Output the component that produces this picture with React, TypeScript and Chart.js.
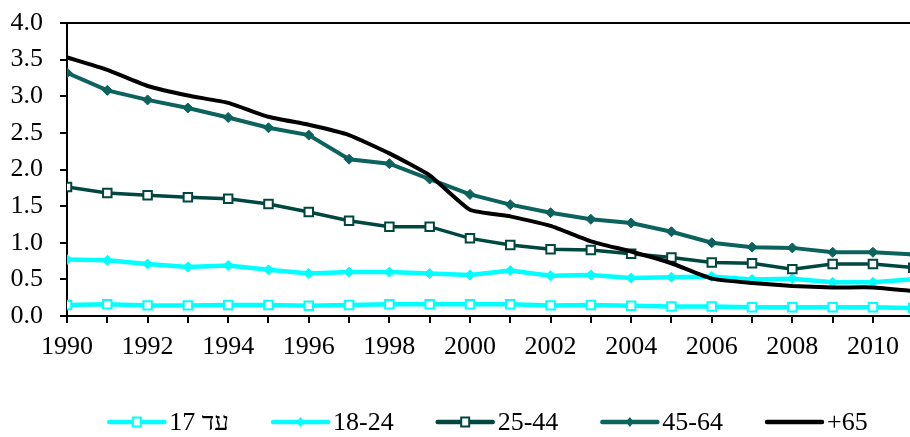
import React, { useEffect, useRef } from 'react';
import { Chart, registerables } from 'chart.js';

Chart.register(...registerables);

// ---- data ----
const years = [1990, 1991, 1992, 1993, 1994, 1995, 1996, 1997, 1998, 1999, 2000, 2001, 2002, 2003, 2004, 2005, 2006, 2007, 2008, 2009, 2010, 2011];
const upTo17 = [0.15, 0.16, 0.145, 0.145, 0.15, 0.15, 0.14, 0.15, 0.16, 0.16, 0.16, 0.16, 0.145, 0.15, 0.14, 0.13, 0.13, 0.12, 0.12, 0.12, 0.12, 0.11];
const age18to24 = [0.77, 0.76, 0.71, 0.67, 0.69, 0.63, 0.58, 0.6, 0.6, 0.58, 0.56, 0.62, 0.55, 0.56, 0.52, 0.53, 0.54, 0.5, 0.51, 0.46, 0.46, 0.5];
const age25to44 = [1.76, 1.68, 1.65, 1.62, 1.6, 1.53, 1.42, 1.3, 1.22, 1.22, 1.06, 0.97, 0.91, 0.9, 0.85, 0.8, 0.73, 0.72, 0.64, 0.71, 0.71, 0.66];
const age45to64 = [3.32, 3.08, 2.95, 2.84, 2.71, 2.57, 2.47, 2.14, 2.08, 1.87, 1.66, 1.52, 1.41, 1.32, 1.27, 1.15, 1.0, 0.94, 0.93, 0.87, 0.87, 0.84];
const age65plus = [3.53, 3.36, 3.14, 3.01, 2.91, 2.72, 2.61, 2.47, 2.22, 1.92, 1.45, 1.36, 1.23, 1.02, 0.88, 0.72, 0.51, 0.45, 0.41, 0.39, 0.39, 0.34];
const seriesLabels = ['עד 17', '18-24', '25-44', '45-64', '+65'];
const xMin = 1990;
const xMax = 2010.92;
const yMin = 0;
const yMax = 4;
const yStep = 0.5;

const FONT = '"Liberation Serif", "Times New Roman", serif';
const CYAN = '#00FFFF';
const DARK = '#00473f';
const TEAL = '#0c625d';

const toPoints = (vals: number[]) => years.map((x, i) => ({ x, y: vals[i] }));

const legendPlugin = {
  id: 'lineMarkerLegend',
  afterDraw(chart: any) {
    const ctx: CanvasRenderingContext2D = chart.ctx;
    const { left, right } = chart.chartArea;
    ctx.save();
    ctx.font = `26px ${FONT}`;
    const lineLen = 55;
    const gapText = 5;
    const gapItem = 44;
    const items = chart.data.datasets.map((ds: any) => ({ ds, w: ctx.measureText(ds.label).width }));
    const total = items.reduce((s: number, it: any) => s + lineLen + gapText + it.w, 0) + gapItem * (items.length - 1);
    let x = (left + right) / 2 - total / 2;
    const y = chart.height - 15;
    for (const it of items) {
      const ds = it.ds;
      ctx.strokeStyle = ds.borderColor;
      ctx.lineWidth = 4.5;
      ctx.lineCap = 'round';
      ctx.beginPath();
      ctx.moveTo(x, y);
      ctx.lineTo(x + lineLen, y);
      ctx.stroke();
      const cx = x + lineLen / 2;
      if (ds.pointStyle === 'rect') {
        ctx.fillStyle = '#ffffff';
        ctx.lineWidth = 2;
        ctx.beginPath();
        ctx.rect(cx - 4, y - 4.5, 8, 9);
        ctx.fill();
        ctx.stroke();
      } else if (ds.pointStyle === 'rectRot') {
        ctx.fillStyle = ds.borderColor;
        ctx.beginPath();
        ctx.moveTo(cx, y - 5);
        ctx.lineTo(cx + 4, y);
        ctx.lineTo(cx, y + 5);
        ctx.lineTo(cx - 4, y);
        ctx.closePath();
        ctx.fill();
      }
      ctx.fillStyle = '#000';
      ctx.textAlign = 'left';
      ctx.textBaseline = 'middle';
      ctx.fillText(ds.label, x + lineLen + gapText, y + 1);
      x += lineLen + gapText + it.w + gapItem;
    }
    ctx.restore();
  },
};

const frameTopPlugin = {
  id: 'frameTop',
  afterDatasetsDraw(chart: any) {
    const ctx: CanvasRenderingContext2D = chart.ctx;
    const { left, right, top } = chart.chartArea;
    ctx.save();
    ctx.strokeStyle = '#000';
    ctx.lineWidth = 2;
    ctx.beginPath();
    ctx.moveTo(left - 7, top);
    ctx.lineTo(right, top);
    ctx.stroke();
    ctx.restore();
  },
};

export default function App() {
  const canvasRef = useRef<HTMLCanvasElement | null>(null);

  useEffect(() => {
    document.body.style.margin = '0';
    const canvas = canvasRef.current;
    if (!canvas) return;
    const common = { tension: 0, fill: false, pointHoverRadius: 6 };
    const chart = new Chart(canvas, {
      type: 'line',
      data: {
        datasets: [
          {
            ...common,
            label: seriesLabels[0],
            data: toPoints(upTo17),
            borderColor: CYAN,
            backgroundColor: '#ffffff',
            borderWidth: 4.5,
            pointStyle: 'rect',
            pointRadius: 6,
            pointBorderWidth: 2,
            pointBackgroundColor: '#ffffff',
            pointBorderColor: CYAN,
            order: 5,
          },
          {
            ...common,
            label: seriesLabels[1],
            data: toPoints(age18to24),
            borderColor: CYAN,
            backgroundColor: CYAN,
            borderWidth: 4.5,
            pointStyle: 'rectRot',
            pointRadius: 5,
            pointBorderWidth: 1,
            pointBackgroundColor: CYAN,
            pointBorderColor: CYAN,
            order: 4,
          },
          {
            ...common,
            label: seriesLabels[2],
            data: toPoints(age25to44),
            borderColor: DARK,
            backgroundColor: '#ffffff',
            borderWidth: 3.5,
            pointStyle: 'rect',
            pointRadius: 6,
            pointBorderWidth: 2,
            pointBackgroundColor: '#ffffff',
            pointBorderColor: DARK,
            order: 3,
          },
          {
            ...common,
            label: seriesLabels[3],
            data: toPoints(age45to64),
            borderColor: TEAL,
            backgroundColor: TEAL,
            borderWidth: 4,
            pointStyle: 'rectRot',
            pointRadius: 5,
            pointBorderWidth: 1,
            pointBackgroundColor: TEAL,
            pointBorderColor: TEAL,
            order: 2,
          },
          {
            ...common,
            label: seriesLabels[4],
            data: toPoints(age65plus),
            borderColor: '#000000',
            backgroundColor: '#000000',
            borderWidth: 4,
            pointRadius: 0,
            tension: 0.15,
            order: 1,
          },
        ] as any,
      },
      options: {
        animation: false,
        responsive: false,
        maintainAspectRatio: false,
        layout: { autoPadding: false, padding: { top: 23, right: 0, bottom: 0, left: 0 } },
        plugins: {
          legend: { display: false },
          tooltip: { enabled: false },
          title: { display: false },
        },
        scales: {
          x: {
            type: 'linear',
            min: xMin,
            max: xMax,
            afterFit: (scale: any) => {
              scale.height = 121;
            },
            ticks: {
              stepSize: 1,
              includeBounds: false,
              autoSkip: false,
              maxRotation: 0,
              padding: 9,
              color: '#000',
              font: { family: FONT, size: 26 },
              callback: (v: any) => (Number(v) % 2 === 0 ? String(v) : ''),
            },
            grid: {
              display: true,
              drawOnChartArea: false,
              drawTicks: true,
              tickLength: 7,
              color: '#000',
              lineWidth: 2,
            },
            border: { display: true, color: '#000', width: 2 },
          },
          y: {
            type: 'linear',
            min: yMin,
            max: yMax,
            afterFit: (scale: any) => {
              scale.width = 67;
              scale.paddingTop = 0;
              scale.paddingBottom = 0;
            },
            ticks: {
              stepSize: yStep,
              padding: 17,
              color: '#000',
              font: { family: FONT, size: 26, lineHeight: 0.6 },
              callback: (v: any) => Number(v).toFixed(1),
            },
            grid: {
              display: true,
              drawOnChartArea: false,
              drawTicks: true,
              tickLength: 7,
              color: '#000',
              lineWidth: 2,
            },
            border: { display: true, color: '#000', width: 2 },
          },
        },
      } as any,
      plugins: [legendPlugin, frameTopPlugin],
    });
    return () => chart.destroy();
  }, []);

  return (
    <div style={{ position: 'absolute', left: 0, top: 0, width: 910, height: 437, background: '#fff' }}>
      <canvas ref={canvasRef} width={910} height={437} />
    </div>
  );
}
